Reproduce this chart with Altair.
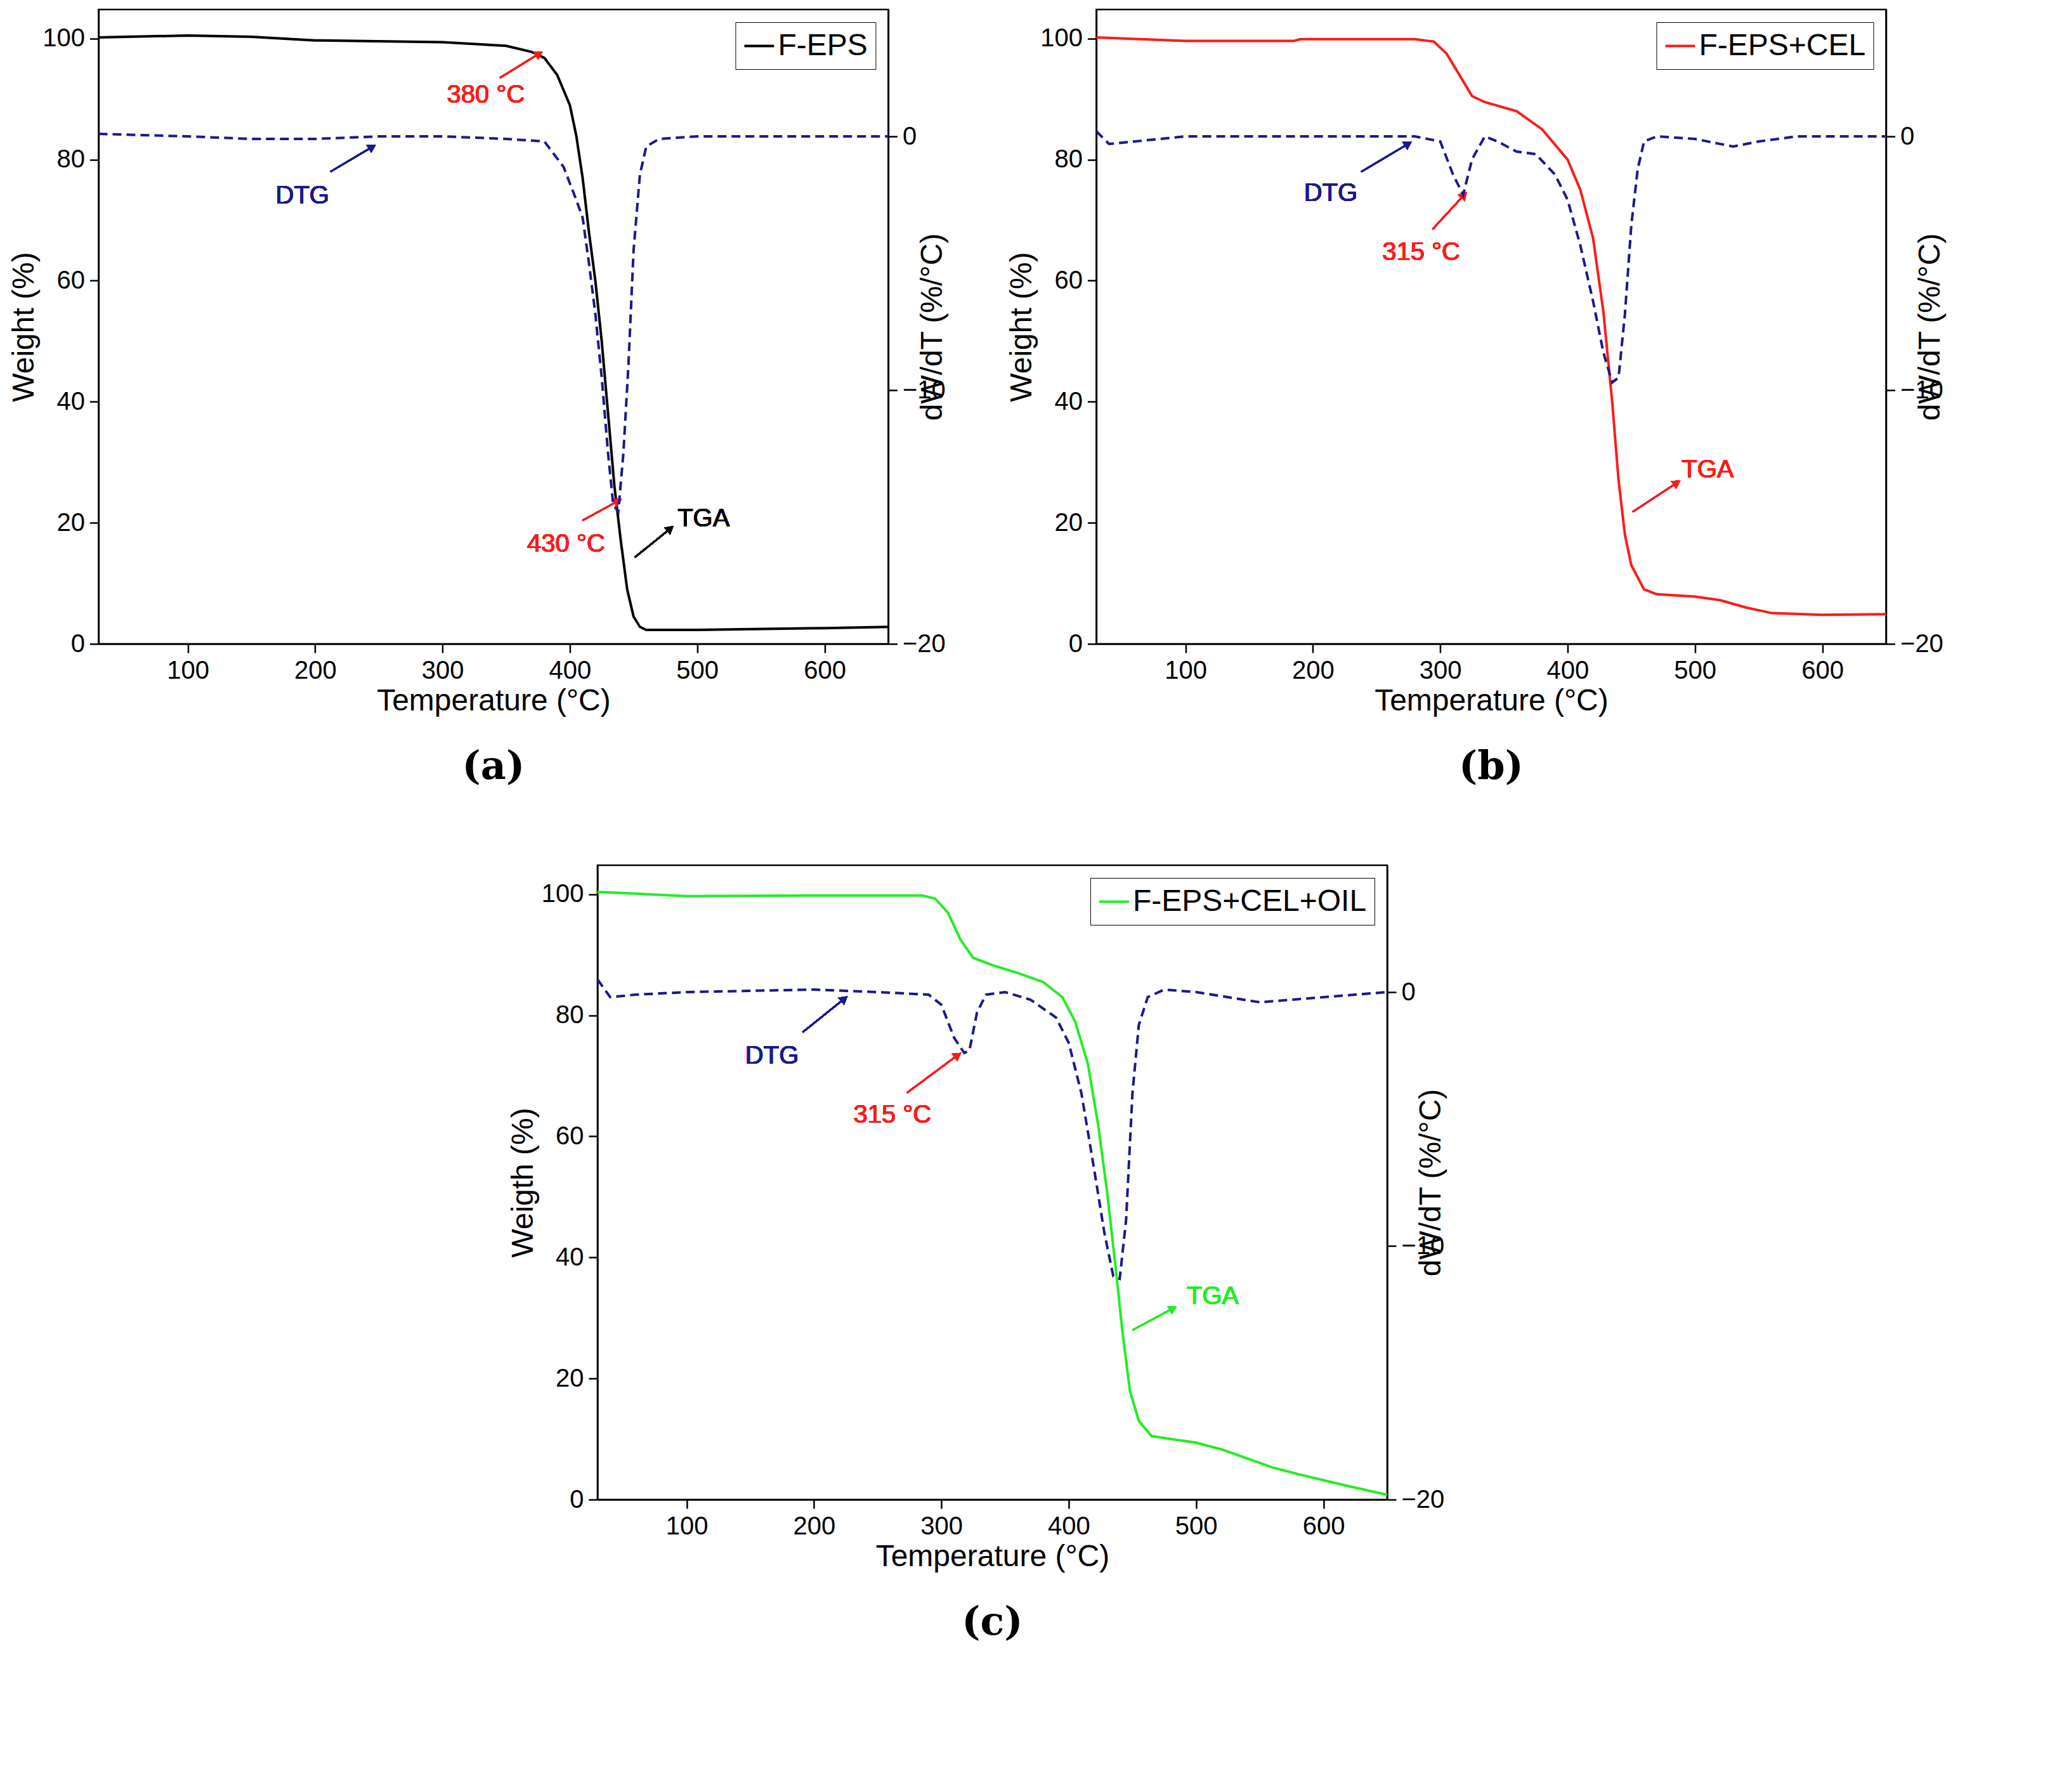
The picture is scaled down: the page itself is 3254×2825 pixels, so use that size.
import pandas as pd
import altair as alt

# ---- data ----
a_tga_t = [30, 100, 150, 200, 300, 350, 370, 380, 390, 400, 405, 410, 415, 420, 425, 430, 435, 440, 445, 450, 455, 460, 500, 600, 650]
a_tga_w = [100.2, 100.5, 100.3, 99.7, 99.4, 98.8, 97.8, 96.8, 94, 89, 84, 77, 68, 60, 50, 38, 26, 17, 9, 4.5, 2.8, 2.3, 2.3, 2.6, 2.8]
a_dtg_t = [30, 100, 150, 200, 250, 300, 350, 380, 395, 405, 410, 415, 420, 425, 430, 434, 438, 442, 446, 450, 455, 460, 470, 500, 600, 650]
a_dtg_v = [0.1, 0, -0.1, -0.1, 0, 0, -0.1, -0.2, -1.2, -2.5, -3.2, -5, -7, -9.5, -12.5, -14.5, -14.8, -12.5, -9, -4.5, -1.5, -0.4, -0.1, 0, 0, 0]

b_tga_t = [30, 100, 185, 190, 280, 295, 305, 315, 325, 335, 360, 380, 400, 410, 420, 428, 435, 440, 445, 450, 460, 470, 500, 520, 540, 560, 600, 650]
b_tga_w = [100.2, 99.6, 99.6, 99.9, 99.9, 99.5, 97.5, 94, 90.5, 89.5, 88, 85, 80, 75, 67, 55, 40, 27, 18, 13, 9, 8.2, 7.8, 7.2, 6, 5.1, 4.8, 4.9]
b_dtg_t = [30, 40, 100, 200, 280, 300, 310, 318, 325, 335, 345, 360, 375, 390, 400, 410, 420, 428, 435, 440, 445, 450, 455, 460, 470, 500, 530, 550, 580, 650]
b_dtg_v = [0.2, -0.3, 0, 0, 0, -0.2, -1.5, -2.3, -0.9, 0, -0.2, -0.6, -0.7, -1.5, -2.5, -4.3, -6.5, -8.5, -9.7, -9.5, -7, -3.5, -1.3, -0.2, 0, -0.1, -0.4, -0.2, 0, 0]

c_tga_t = [30, 100, 200, 285, 295, 305, 315, 325, 340, 360, 380, 395, 405, 415, 423, 430, 437, 442, 448, 455, 465, 480, 500, 520, 540, 560, 580, 600, 620, 650]
c_tga_w = [100.4, 99.7, 99.8, 99.8, 99.3, 97, 92.5, 89.5, 88.3, 87, 85.5, 83, 79, 72, 62, 51, 38, 28, 18, 13, 10.5, 10, 9.4, 8.3, 6.8, 5.3, 4.2, 3.2, 2.2, 0.8]
c_dtg_t = [30, 40, 60, 100, 200, 250, 290, 300, 310, 318, 322, 328, 335, 350, 370, 390, 400, 410, 420, 428, 435, 440, 445, 450, 455, 462, 475, 500, 550, 600, 650]
c_dtg_v = [0.5, -0.2, -0.1, 0, 0.1, 0, -0.1, -0.5, -1.8, -2.4, -2.3, -0.8, -0.1, 0, -0.3, -1, -2, -4, -7, -9.5, -11.2, -11.3, -9, -4, -1.3, -0.2, 0.1, 0, -0.4, -0.2, 0]

# annotations: (text, x, y, color), arrows: (x1, y1, x2, y2, color, head angle)
a_texts = [("380 °C", 334, 90.6, "#ff1a1a"), ("430 °C", 397, 16.5, "#ff1a1a"),
           ("TGA", 505, 20.6, "black"), ("DTG", 190, 74, "#1a1a8c")]
a_arrows = [(345, 93.5, 375, 97.4, "#ff1a1a", 58), (410, 20.4, 437, 23.5, "#ff1a1a", 62),
            (451, 14.3, 478, 18.9, "black", 50), (212, 78, 244, 82, "#1a1a8c", 58)]
b_texts = [("DTG", 214, 74.4, "#1a1a8c"), ("315 °C", 285, 64.7, "#ff1a1a"), ("TGA", 510, 28.7, "#ff1a1a")]
b_arrows = [(238, 78, 274, 82.5, "#1a1a8c", 58), (294, 68.5, 318, 74, "#ff1a1a", 42),
            (451, 21.8, 485, 26.5, "#ff1a1a", 56)]
c_texts = [("DTG", 167, 73.3, "#1a1a8c"), ("315 °C", 261.5, 63.5, "#ff1a1a"), ("TGA", 513, 33.5, "#22ee22")]
c_arrows = [(191, 77.2, 223, 82.6, "#1a1a8c", 51), (273, 67.2, 312, 73.3, "#ff1a1a", 55),
            (450, 28, 481, 31.5, "#22ee22", 62)]

W, H = 1245, 1000
XS = alt.Scale(domain=[30, 650], nice=False)
YS = alt.Scale(domain=[0, 104.8], nice=False)
RS = alt.Scale(domain=[-20, 5], nice=False)
NAVY = "#1a1a8c"
XAXIS = alt.Axis(values=[100, 200, 300, 400, 500, 600])


def panel(tga_t, tga_w, dtg_t, dtg_v, color, name, ytitle, caption, texts, arrows):
    tga_df = pd.DataFrame({"T": tga_t, "W": tga_w, "s": name})
    dtg_df = pd.DataFrame({"T": dtg_t, "D": dtg_v})

    tga = alt.Chart(tga_df).mark_line(strokeWidth=4).encode(
        x=alt.X("T:Q", scale=XS, title="Temperature (°C)", axis=XAXIS),
        y=alt.Y("W:Q", scale=YS, title=ytitle,
                axis=alt.Axis(values=[0, 20, 40, 60, 80, 100])),
        color=alt.Color("s:N", scale=alt.Scale(range=[color]),
                        legend=alt.Legend(title=None, orient="top-right", symbolType="stroke",
                                          symbolSize=2200, symbolStrokeWidth=4, labelFontSize=48,
                                          labelLimit=0, strokeColor="black", padding=12, offset=20)),
    )
    layers = [tga]
    for txt, x, y, col in texts:
        layers.append(alt.Chart(tga_df).mark_text(fontSize=40, color=col, font="Liberation Sans",
                                                  fontWeight="normal").encode(
            x=alt.datum(x, scale=XS), y=alt.datum(y, scale=YS), text=alt.value(txt)))
    for x1, y1, x2, y2, col, ang in arrows:
        layers.append(alt.Chart(tga_df).mark_rule(color=col, strokeWidth=2.5).encode(
            x=alt.datum(x1, scale=XS), x2=alt.datum(x2), y=alt.datum(y1, scale=YS), y2=alt.datum(y2)))
        layers.append(alt.Chart(tga_df).mark_point(shape="triangle", filled=True, size=220,
                                                   color=col, opacity=1, angle=ang).encode(
            x=alt.datum(x2, scale=XS), y=alt.datum(y2, scale=YS)))
    left = alt.layer(*layers)

    dtg = alt.Chart(dtg_df).mark_line(strokeWidth=4, strokeDash=[14, 8], color=NAVY).encode(
        x=alt.X("T:Q", scale=XS, title="Temperature (°C)", axis=XAXIS),
        y=alt.Y("D:Q", scale=RS, title="dW/dT (%/°C)",
                axis=alt.Axis(orient="right", values=[0, -10, -20], titleAngle=270)),
    )
    return alt.layer(left, dtg).resolve_scale(y="independent").properties(
        width=W, height=H,
        title=alt.TitleParams(caption, orient="bottom", font="DejaVu Serif", fontSize=62,
                              fontWeight="bold", offset=50),
    )


pa = panel(a_tga_t, a_tga_w, a_dtg_t, a_dtg_v, "black", "F-EPS", "Weight (%)", "(a)", a_texts, a_arrows)
pb = panel(b_tga_t, b_tga_w, b_dtg_t, b_dtg_v, "#ff1a1a", "F-EPS+CEL", "Weight (%)", "(b)", b_texts, b_arrows)
pc = panel(c_tga_t, c_tga_w, c_dtg_t, c_dtg_v, "#22ee22", "F-EPS+CEL+OIL", "Weigth (%)", "(c)", c_texts, c_arrows)

chart = alt.vconcat(
    alt.hconcat(pa, pb, spacing=90).resolve_scale(color="independent"),
    pc, center=True, spacing=120,
).resolve_scale(color="independent").configure_axis(
    labelFontSize=40, titleFontSize=48, titleFontWeight="normal", labelFont="Liberation Sans",
    titleFont="Liberation Sans", domainColor="black", tickColor="black", tickSize=14,
    domainWidth=2.5, tickWidth=2.5, grid=False, labelColor="black", titleColor="black",
    labelPadding=8,
).configure_view(stroke="black", strokeWidth=2.5).configure_legend(labelFont="Liberation Sans")

chart.save("out.html", embed_options={"renderer": "svg", "actions": False})
